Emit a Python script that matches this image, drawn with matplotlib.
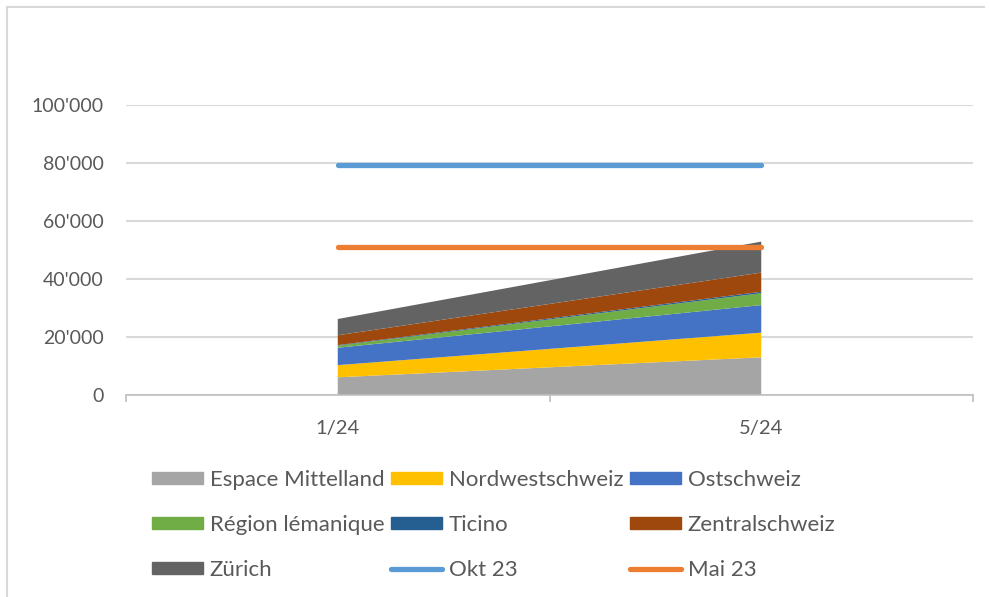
import matplotlib
matplotlib.use("Agg")
import matplotlib.pyplot as plt
from matplotlib.lines import Line2D
from matplotlib.patches import Patch
from matplotlib.ticker import FuncFormatter, FixedLocator
import numpy as np

plt.rcParams['font.family'] = ['Lato', 'DejaVu Sans']

categories = ["1/24", "5/24"]
regions = ["Espace Mittelland", "Nordwestschweiz", "Ostschweiz",
           "Région lémanique", "Ticino", "Zentralschweiz", "Zürich"]
espace = [6100, 13000]
nordwest = [4200, 8500]
ost = [6000, 9500]
leman = [700, 4100]
ticino = [200, 500]
zentral = [3400, 6600]
zuerich = [5600, 10700]
okt23 = [79300, 79300]
mai23 = [51200, 51200]

area_colors = ["#A5A5A5", "#FFC000", "#4472C4", "#70AD47", "#255E91", "#9E480E", "#636363"]
line_colors = {"Okt 23": "#5B9BD5", "Mai 23": "#ED7D31"}
text_color = "#595959"
grid_color = "#D9D9D9"

W, H = 989, 597
fig = plt.figure(figsize=(W / 100, H / 100), dpi=100)
ax = fig.add_axes([126 / W, (H - 395) / H, (973 - 126) / W, (395 - 105) / H])

x = np.arange(len(categories))
series = [espace, nordwest, ost, leman, ticino, zentral, zuerich]
ax.stackplot(x, *series, colors=area_colors, labels=regions, linewidth=0)
l1, = ax.plot(x, okt23, color=line_colors["Okt 23"], lw=3.8, solid_capstyle='round', label="Okt 23")
l2, = ax.plot(x, mai23, color=line_colors["Mai 23"], lw=3.8, solid_capstyle='round', label="Mai 23")

ax.set_xlim(-0.5, 1.5)
ax.set_ylim(0, 100000)
ax.set_yticks(np.arange(0, 100001, 20000))
ax.yaxis.set_major_formatter(FuncFormatter(lambda v, p: f"{int(v):,}".replace(",", "'")))
ax.set_xticks(x)
ax.set_xticklabels(categories)
ax.xaxis.set_minor_locator(FixedLocator([-0.5, 0.5, 1.5]))

for s in ["top", "right", "left"]:
    ax.spines[s].set_visible(False)
ax.spines["bottom"].set_color("#BFBFBF")
ax.spines["bottom"].set_linewidth(1.2)
ax.grid(axis='y', color=grid_color, linewidth=1.5)
ax.set_axisbelow(True)
ax.tick_params(axis='y', length=0, pad=16, labelsize=14, labelcolor=text_color)
ax.tick_params(axis='x', which='major', length=0, pad=18, labelsize=14.5, labelcolor=text_color)
ax.tick_params(axis='x', which='minor', length=5, width=1.2, color="#BFBFBF")

# legend (column-major order to reproduce row layout)
handles = [Patch(color=c) for c in area_colors] + [
    Line2D([0], [0], color=line_colors["Okt 23"], lw=3.8, solid_capstyle='round'),
    Line2D([0], [0], color=line_colors["Mai 23"], lw=3.8, solid_capstyle='round')]
labels = regions + ["Okt 23", "Mai 23"]
order = [0, 3, 6, 1, 4, 7, 2, 5, 8]
leg = fig.legend([handles[i] for i in order], [labels[i] for i in order],
                 ncol=3, loc='upper left', bbox_to_anchor=(152 / W, (H - 470) / H),
                 frameon=False, fontsize=16, labelcolor=text_color,
                 handlelength=2.3, handleheight=0.5, handletextpad=0.3,
                 columnspacing=0.3, labelspacing=1.12, borderpad=0, borderaxespad=0)

# outer chart border (top and left visible)
fig.add_artist(Line2D([7 / W, 984 / W], [(H - 7) / H, (H - 7) / H], color=grid_color, lw=1.5))
fig.add_artist(Line2D([7 / W, 7 / W], [(H - 7) / H, 0], color=grid_color, lw=1.5))

fig.savefig("out.png", dpi=100)
